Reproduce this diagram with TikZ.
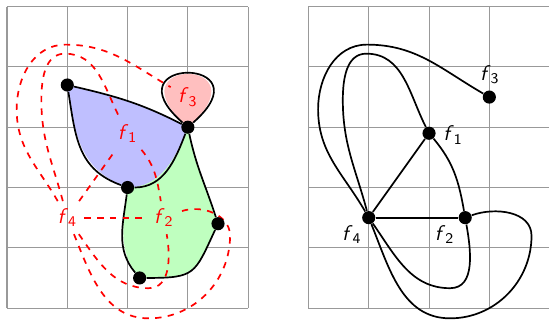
\documentclass[tikz,border=0pt]{standalone}
\pgfdeclarelayer{bg}
\pgfdeclarelayer{fg}
\pgfsetlayers{bg,main,fg}
\newcommand{\fsub}[1]{\textsf{\textit{f}}\ensuremath{_{\mathsf{#1}}}}
\newcommand{\dualcurves}[2]{%
  \draw[#2] (#14) to[out=120,in=-90] (0.16,3.3) to[out=90,in=180] (0.97,4.37) to[out=0,in=150] (#13);
  \draw[#2] (#14) to[out=105,in=-90] (0.57,3.45) to[out=90,in=180] (0.96,4.22) to[out=0,in=117] (#11);
  \draw[#2] (#14) -- (#11);
  \draw[#2] (#11) to[out=-50,in=100] (#12);
  \draw[#2] (#14) -- (#12);
  \draw[#2] (#14) to[out=-55,in=180] (2.35,0.33) to[out=0,in=-80] (#12);
  \draw[#2] (#14) to[out=-68,in=180] (2.35,-0.17) to[out=0,in=-90] (3.7,1.2) to[out=90,in=20] (#12);
}
\begin{document}
\begin{tikzpicture}[
  gridline/.style={gray!80, line width=0.5pt},
  vtx/.style={circle, fill=black, inner sep=0pt, minimum size=6.2pt},
  edge/.style={thick, black},
  dualedge/.style={thick, red, dashed},
  facelabel/.style={red},
]
\useasboundingbox (-0.116,-0.227) rectangle (8.99,5.11);
% vertices (drawn on top)
\begin{pgfonlayer}{fg}
  \node[vtx] (A) at (1,3.7) {};
  \node[vtx] (B) at (3,3) {};
  \node[vtx] (C) at (2,2) {};
  \node[vtx] (D) at (3.5,1.4) {};
  \node[vtx] (E) at (2.2,0.5) {};
\end{pgfonlayer}
% grids and faces
\begin{pgfonlayer}{bg}
  \draw[gridline] (0,0) grid (4,5);
  \draw[gridline] (5,0) grid (9,5);
  \fill[blue!25] (A.center) to[out=-13,in=153] (B.center) to[out=-111,in=0] (C.center)
     to[out=160,in=-81,looseness=1.1] (A.center) -- cycle;
  \fill[green!25] (B.center) to[out=-111,in=0] (C.center) to[out=-97,in=130] (E.center)
     to[out=0,in=-115,looseness=1.5] (D.center) to[out=108,in=-78] (B.center) -- cycle;
  \fill[red!25] (B.center) .. controls (1.65,4.18) and (4.35,4.18) .. (B.center) -- cycle;
\end{pgfonlayer}
% primal edges
\draw[edge] (A) to[out=-13,in=153] (B);
\draw[edge] (A) to[out=-81,in=160,looseness=1.1] (C);
\draw[edge] (B) to[out=-111,in=0] (C);
\draw[edge] (C) to[out=-97,in=130] (E);
\draw[edge] (E) to[out=0,in=-115,looseness=1.5] (D);
\draw[edge] (D) to[out=108,in=-78] (B);
\draw[edge] (B) .. controls (1.65,4.18) and (4.35,4.18) .. (B);
% face labels (left)
\node[facelabel] (g1) at (2,2.9) {\fsub1};
\node[facelabel] (g2) at (2.6,1.5) {\fsub2};
\node[facelabel] (g3) at (3,3.5) {\fsub3};
\node[facelabel] (g4) at (1,1.5) {\fsub4};
\dualcurves{g}{dualedge}
% dual graph (right)
\begin{scope}[xshift=5cm]
  \begin{pgfonlayer}{fg}
    \node[vtx] (h1) at (2,2.9) {};
    \node[vtx] (h2) at (2.6,1.5) {};
    \node[vtx] (h3) at (3,3.5) {};
    \node[vtx] (h4) at (1,1.5) {};
  \end{pgfonlayer}
  \dualcurves{h}{edge}
  \node (l1) at (2.4,2.87) {\fsub1};
  \node (l2) at (2.26,1.22) {\fsub2};
  \node (l3) at (3.01,3.87) {\fsub3};
  \node (l4) at (0.72,1.22) {\fsub4};
\end{scope}
\end{tikzpicture}
\end{document}
